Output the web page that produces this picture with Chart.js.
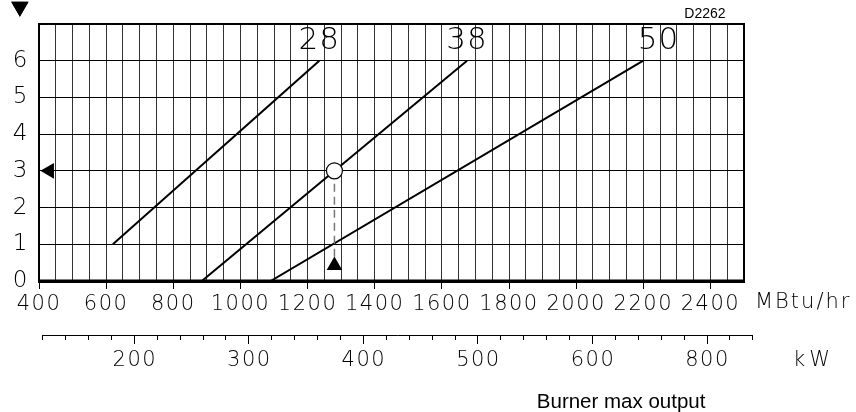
<!DOCTYPE html>
<html>
<head>
<meta charset="utf-8">
<script src="https://cdn.jsdelivr.net/npm/chart.js@4/dist/chart.umd.min.js"></script>
<style>
  html, body { margin: 0; padding: 0; background: #fff; }
  #wrap { width: 856px; height: 412px; }
</style>
</head>
<body>
<div id="wrap"><canvas id="chart"></canvas></div>
<script>
"use strict";

// curves (burner models), start and end points in MBtu/hr and y units
const curveNames = ['28', '38', '50'];
const curveStartX = [620, 885, 1090];
const curveStartY = [1, 0, 0];
const curveEndX = [1235, 1675, 2200];
const curveEndY = [6, 6, 6];
// where the curve names sit (data units)
const curveLabelX = [1235, 1675, 2245];
const curveLabelY = [6.12, 6.12, 6.12];

// axis ticks
const xMin = 400, xMax = 2500, xGridStep = 50;
const xTickLabels = [400, 600, 800, 1000, 1200, 1400, 1600, 1800, 2000, 2200, 2400];
const yTicks = [0, 1, 2, 3, 4, 5, 6];
const yMax = 7;

// second (kW) scale under the chart
const KW_TO_MBTU = 3.412;
const kwStart = 120, kwEnd = 740, kwMinorStep = 20;
const kwTicks = [200, 300, 400, 500, 600, 700];
const kwTickLabels = ['200', '300', '400', '500', '600', '800'];

// working point example
const workX = [1280];
const workY = [3];
const workArrowY = [0.42];
const leftArrowX = [431];
const topArrowX = [343];
const topArrowY = [7.47];

const FONT = "'DejaVu Sans', sans-serif";
const TICK_SPACING = '1.5px';

const frame = {
  id: 'frame',
  beforeDraw(chart) {
    chart.ctx.letterSpacing = TICK_SPACING;
  },
  afterDraw(chart) {
    const {ctx, chartArea: a, scales} = chart;
    const x = scales.x, y = scales.y;
    ctx.save();
    // outer box
    ctx.strokeStyle = '#000';
    ctx.lineWidth = 2;
    ctx.strokeRect(a.left, a.top, a.right - a.left, a.bottom - a.top);
    ctx.lineWidth = 3;
    ctx.beginPath();
    ctx.moveTo(a.left - 1, a.bottom);
    ctx.lineTo(a.right + 1, a.bottom);
    ctx.stroke();

    // marker above the y axis (outside the chart area, so drawn here)
    ctx.fillStyle = '#000';
    Chart.helpers.drawPoint(ctx, {pointStyle: 'triangle', radius: 10, rotation: 180, borderWidth: 0},
      x.getPixelForValue(topArrowX[0]), y.getPixelForValue(topArrowY[0]));
    ctx.fill();

    // curve names
    ctx.textAlign = 'center';
    ctx.textBaseline = 'bottom';
    ctx.letterSpacing = '1px';
    ctx.font = '200 31px ' + FONT;
    curveNames.forEach((n, i) => {
      ctx.fillText(n, x.getPixelForValue(curveLabelX[i]), y.getPixelForValue(curveLabelY[i]));
    });

    // kW scale
    const kwY = a.bottom + 54;
    ctx.lineWidth = 1;
    ctx.strokeStyle = '#000';
    ctx.beginPath();
    ctx.moveTo(x.getPixelForValue(kwStart * KW_TO_MBTU), kwY + 0.5);
    ctx.lineTo(x.getPixelForValue(kwEnd * KW_TO_MBTU), kwY + 0.5);
    for (let kw = kwStart; kw <= kwEnd; kw += kwMinorStep) {
      const px = Math.round(x.getPixelForValue(kw * KW_TO_MBTU)) + 0.5;
      const len = kwTicks.includes(kw) ? 9 : 5;
      ctx.moveTo(px, kwY);
      ctx.lineTo(px, kwY + len);
    }
    ctx.stroke();
    ctx.font = '200 21px ' + FONT;
    ctx.letterSpacing = TICK_SPACING;
    ctx.textBaseline = 'middle';
    kwTicks.forEach((kw, i) => {
      ctx.fillText(kwTickLabels[i], x.getPixelForValue(kw * KW_TO_MBTU) + 1, kwY + 26);
    });

    // unit names
    ctx.textAlign = 'left';
    ctx.letterSpacing = '2px';
    ctx.fillText('MBtu/hr', a.right + 11, a.bottom + 22);
    ctx.letterSpacing = '4px';
    ctx.fillText('kW', a.right + 49, kwY + 26);

    // captions
    ctx.letterSpacing = '0px';
    ctx.font = "20.5px 'Liberation Sans', Arial, sans-serif";
    ctx.textAlign = 'center';
    ctx.fillText('Burner max output', x.getPixelForValue(2134), a.bottom + 121);
    ctx.font = "14px 'Liberation Sans', Arial, sans-serif";
    ctx.textAlign = 'right';
    ctx.fillText('D2262', x.getPixelForValue(2445), a.top - 10);
    ctx.restore();
    ctx.letterSpacing = '0px';
  }
};

const curveSets = curveNames.map((n, i) => ({
  label: n,
  data: [{x: curveStartX[i], y: curveStartY[i]}, {x: curveEndX[i], y: curveEndY[i]}],
  showLine: true,
  borderColor: '#000',
  borderWidth: 2,
  pointRadius: 0,
  order: 3
}));

const ctx = document.getElementById('chart');
new Chart(ctx, {
  type: 'scatter',
  data: {
    datasets: [
      {
        label: 'point',
        data: [{x: workX[0], y: workY[0]}],
        pointRadius: 8,
        pointBackgroundColor: '#fff',
        pointBorderColor: '#000',
        pointBorderWidth: 1.2,
        order: 0
      },
      {
        label: 'arrows',
        data: [
          {x: workX[0], y: workArrowY[0]},
          {x: leftArrowX[0], y: workY[0]}
        ],
        pointStyle: 'triangle',
        pointRotation: [0, -90],
        pointRadius: 9,
        pointBackgroundColor: '#000',
        pointBorderColor: '#000',
        pointBorderWidth: 0,
        order: 1
      },
      {
        label: 'drop',
        data: [{x: workX[0], y: workY[0]}, {x: workX[0], y: workArrowY[0] + 0.15}],
        showLine: true,
        borderColor: '#777',
        borderWidth: 1.5,
        borderDash: [8, 5],
        pointRadius: 0,
        order: 2
      },
      ...curveSets
    ]
  },
  options: {
    responsive: true,
    maintainAspectRatio: false,
    animation: false,
    events: [],
    layout: { padding: { left: 0, right: 112, top: 24, bottom: 0 } },
    plugins: {
      legend: { display: false },
      tooltip: { enabled: false }
    },
    scales: {
      x: {
        type: 'linear',
        min: xMin,
        max: xMax,
        afterBuildTicks(scale) {
          const t = [];
          for (let v = xMin; v <= xMax; v += xGridStep) t.push({value: v});
          scale.ticks = t;
        },
        afterFit(scale) { scale.height = 131; },
        ticks: {
          autoSkip: false,
          maxRotation: 0,
          padding: 3,
          color: '#000',
          font: { family: FONT, size: 21, weight: '200' },
          callback: (v) => xTickLabels.includes(v) ? String(v) : ''
        },
        grid: {
          color: '#333',
          lineWidth: 1,
          tickLength: 8,
          tickColor: (c) => (c.tick && xTickLabels.includes(c.tick.value)) ? '#000' : 'rgba(0,0,0,0)'
        },
        border: { display: true, color: '#000', width: 3 }
      },
      y: {
        type: 'linear',
        min: 0,
        max: yMax,
        afterBuildTicks(scale) {
          const t = yTicks.map(v => ({value: v}));
          t.push({value: yMax});
          scale.ticks = t;
        },
        afterFit(scale) { scale.width = 39; },
        ticks: {
          padding: 10,
          color: '#000',
          font: { family: FONT, size: 23, weight: '200' },
          callback: (v) => yTicks.includes(v) ? String(v) : ''
        },
        grid: { color: '#000', lineWidth: 1, drawTicks: false },
        border: { display: true, color: '#000', width: 2 }
      }
    }
  },
  plugins: [frame]
});
</script>
</body>
</html>
